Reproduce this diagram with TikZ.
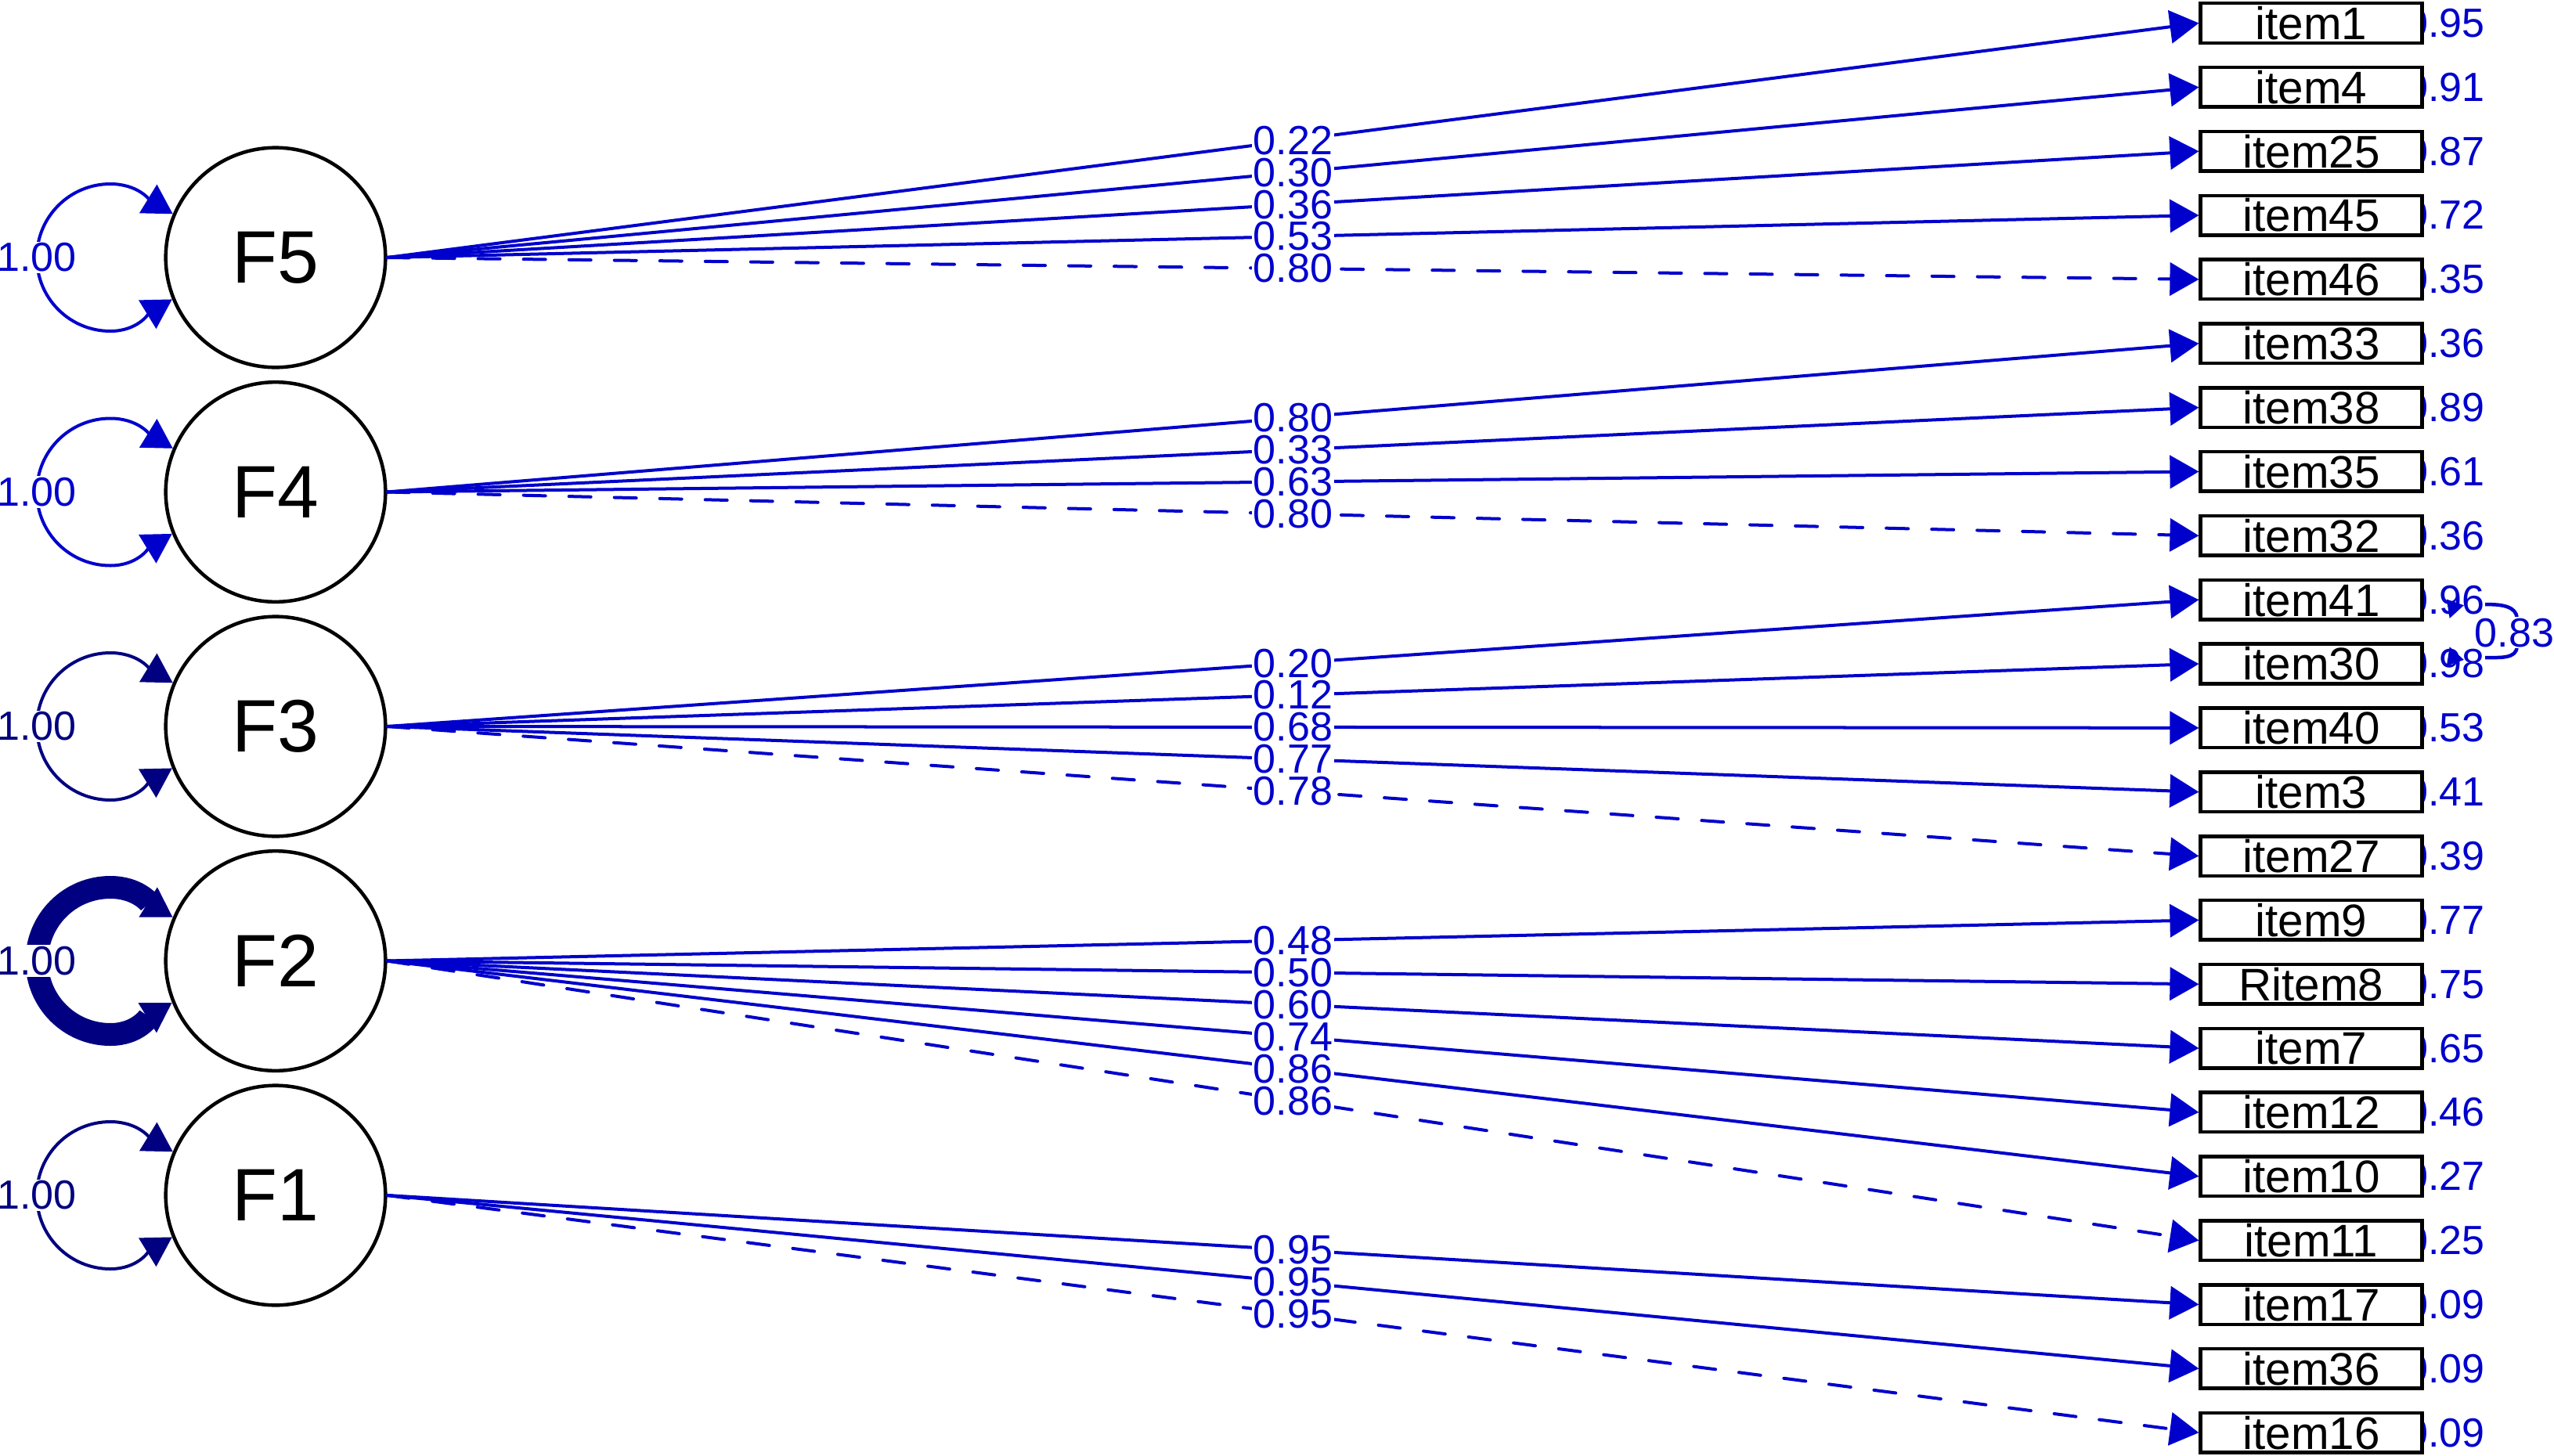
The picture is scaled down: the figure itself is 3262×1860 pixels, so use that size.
\documentclass[tikz,border=0pt]{standalone}
\usepackage{fontspec}
\setmainfont{Liberation Sans}
\usetikzlibrary{arrows.meta}
\definecolor{eblue}{RGB}{0,0,205}
\definecolor{enavy}{RGB}{0,0,128}
\pgfdeclarelayer{bg}
\pgfsetlayers{bg,main}
\begin{document}
\begin{tikzpicture}[x=0.01cm,y=-0.01cm,
  latent/.style={circle,draw=black,line width=0.45mm,minimum size=2.805cm,inner sep=0pt,fill=white,font=\fontsize{27}{30}\selectfont},
  manifest/.style={rectangle,draw=black,line width=0.45mm,minimum width=2.825cm,minimum height=0.505cm,inner sep=0pt,fill=white,font=\fontsize{16.6}{19}\selectfont},
  load/.style={draw=eblue,line width=0.4mm,-{Triangle[length=3.7mm,width=4.2mm]}},
  fixload/.style={load,dash pattern=on 2.8mm off 3mm,line cap=round},
  varloop/.style={{Triangle[length=3.7mm,width=4.2mm]}-{Triangle[length=3.7mm,width=4.2mm]}},
  lbl/.style={fill=white,inner sep=0.5pt,text=eblue,font=\fontsize{14.8}{17}\selectfont},
  resid/.style={fill=white,inner sep=0pt,text=eblue,font=\fontsize{14.8}{17}\selectfont},
  cov/.style={draw=eblue,line width=0.45mm},
  covtip/.style={draw=eblue,line width=0.45mm,-{Triangle[length=2.2mm,width=2.2mm]}}]
\useasboundingbox (0,0) rectangle (3262,1860);

% latent variables
\node[latent] (F5) at (352,329) {F5};
\node[latent] (F4) at (352,628.5) {F4};
\node[latent] (F3) at (352,928) {F3};
\node[latent] (F2) at (352,1227.5) {F2};
\node[latent] (F1) at (352,1527) {F1};

% residual labels and manifest boxes
\foreach \nm/\k/\r in {item1/0/0.95, item4/1/0.91, item25/2/0.87, item45/3/0.72, item46/4/0.35,
  item33/5/0.36, item38/6/0.89, item35/7/0.61, item32/8/0.36,
  item41/9/0.96, item30/10/0.98, item40/11/0.53, item3/12/0.41, item27/13/0.39,
  item9/14/0.77, Ritem8/15/0.75, item7/16/0.65, item12/17/0.46, item10/18/0.27, item11/19/0.25,
  item17/20/0.09, item36/21/0.09, item16/22/0.09}{
  \node[resid] (r\nm) at (3123,{29.5+\k*81.85}) {\r};
  \node[manifest] (\nm) at (2952,{29.5+\k*81.85}) {\nm};
}

% residual covariance
\begin{pgfonlayer}{bg}
\draw[cov] ([shift={(44,6)}]item41.east) -- ([shift={(82,6)}]item41.east)
  to[out=0,in=90] ([shift={(119,24)}]item41.east) -- ([shift={(119,-22)}]item30.east)
  to[out=-90,in=0] ([shift={(82,-8)}]item30.east) -- ([shift={(44,-8)}]item30.east);
\end{pgfonlayer}
\draw[covtip] ([shift={(40,4)}]item41.east) -- ([shift={(33,24)}]item41.east);
\draw[covtip] ([shift={(40,-2)}]item30.east) -- ([shift={(33,-22)}]item30.east);
\node[lbl] (cov4130) at ([shift={(116,42)}]item41.east) {0.83};

% loadings
\foreach \f/\it/\v/\st in {F5/item1/0.22/load, F5/item4/0.30/load, F5/item25/0.36/load, F5/item45/0.53/load, F5/item46/0.80/fixload,
  F4/item33/0.80/load, F4/item38/0.33/load, F4/item35/0.63/load, F4/item32/0.80/fixload,
  F3/item41/0.20/load, F3/item30/0.12/load, F3/item40/0.68/load, F3/item3/0.77/load, F3/item27/0.78/fixload,
  F2/item9/0.48/load, F2/Ritem8/0.50/load, F2/item7/0.60/load, F2/item12/0.74/load, F2/item10/0.86/load, F2/item11/0.86/fixload,
  F1/item17/0.95/load, F1/item36/0.95/load, F1/item16/0.95/fixload}{
  \draw[\st] (\f.east) -- (\it.west);
}
\foreach \f/\it/\v in {F5/item1/0.22, F5/item4/0.30, F5/item25/0.36, F5/item45/0.53, F5/item46/0.80,
  F4/item33/0.80, F4/item38/0.33, F4/item35/0.63, F4/item32/0.80,
  F3/item41/0.20, F3/item30/0.12, F3/item40/0.68, F3/item3/0.77, F3/item27/0.78,
  F2/item9/0.48, F2/Ritem8/0.50, F2/item7/0.60, F2/item12/0.74, F2/item10/0.86, F2/item11/0.86,
  F1/item17/0.95, F1/item36/0.95, F1/item16/0.95}{
  \path (\f.east) -- (\it.west) node[lbl,midway] {\v};
}

% variance loops
\foreach \f/\c/\w in {F5/eblue/0.4mm, F4/eblue/0.4mm, F3/enavy/0.4mm, F2/enavy/2.9mm, F1/enavy/0.4mm}{
  \draw[varloop,draw=\c,line width=\w] (\f.157.8) to[out=148.5,in=0] ([shift={(-211,-94)}]\f.center)
    to[out=180,in=90] ([shift={(-305,0)}]\f.center) coordinate (L\f)
    to[out=-90,in=180] ([shift={(-211,94)}]\f.center) to[out=0,in=211.5] (\f.202.2);
  \node[lbl,text=\c] at (L\f) {1.00};
}
\end{tikzpicture}
\end{document}
